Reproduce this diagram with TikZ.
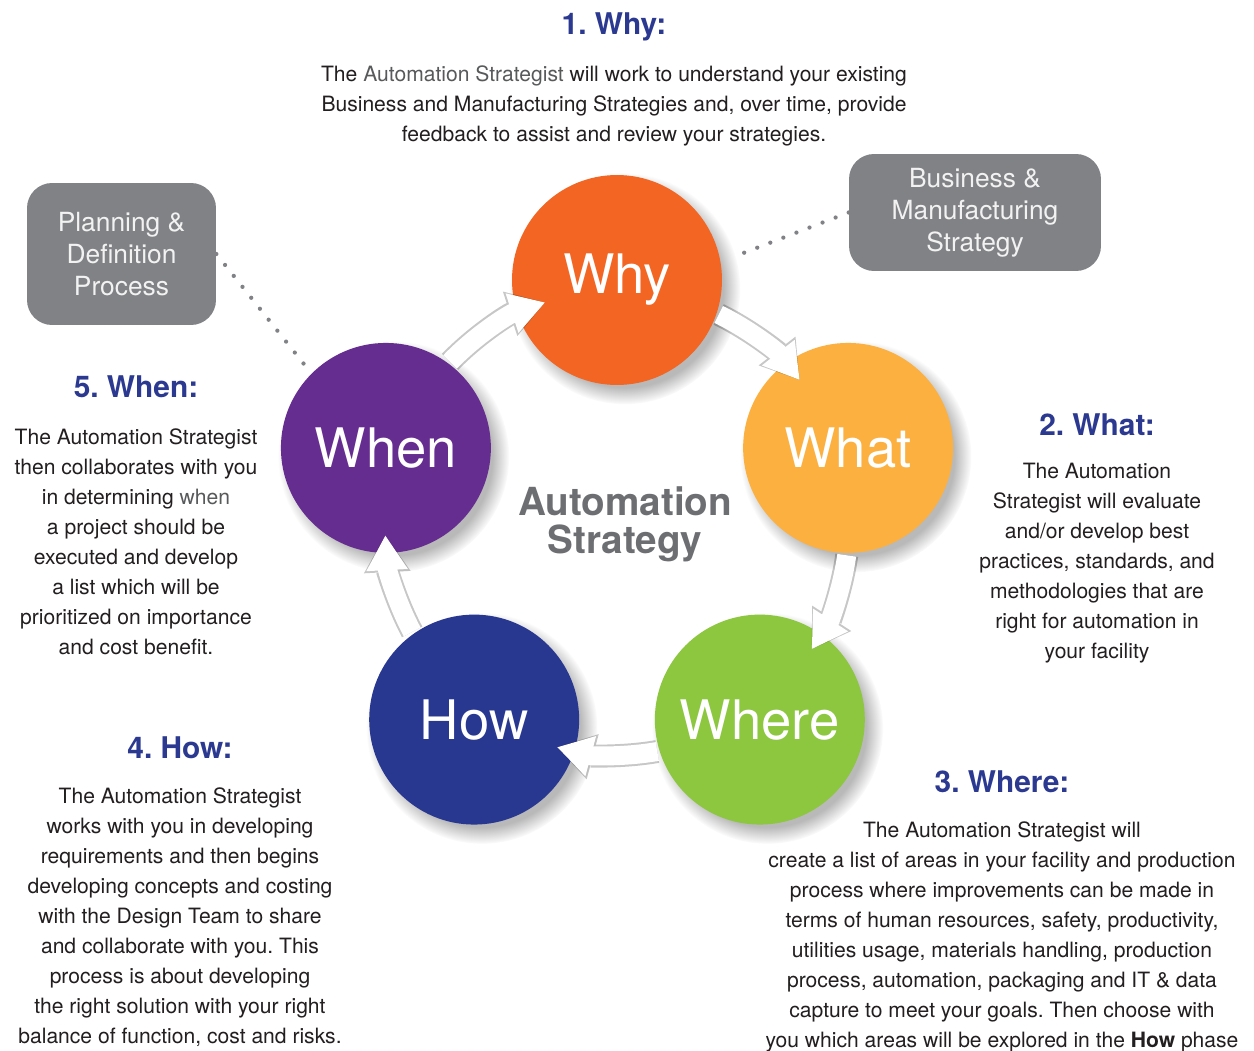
\documentclass[tikz,border=0pt]{standalone}
\usepackage{fontspec}
\setmainfont{TeX Gyre Heros}
\usepackage{xcolor}
\usepackage{tikz}
\usetikzlibrary{calc}
\usetikzlibrary{arrows.meta}
\usetikzlibrary{shadows}
\frenchspacing

\definecolor{whyorange}{HTML}{F26522}
\definecolor{whatorange}{HTML}{FBB040}
\definecolor{wheregreen}{HTML}{8DC63F}
\definecolor{howblue}{HTML}{283891}
\definecolor{whenpurple}{HTML}{662D91}
\definecolor{headblue}{HTML}{2B3990}
\definecolor{boxgrey}{HTML}{808285}
\definecolor{textgrey}{HTML}{231F20}
\definecolor{lightgrey}{HTML}{58595B}
\definecolor{centergrey}{HTML}{6D6E71}

\tikzstyle{stage} = [circle, minimum size=4.2cm, inner sep=0pt, text=white,
  font=\fontsize{31}{36}\selectfont,
  circular drop shadow={shadow xshift=0.14cm, shadow yshift=-0.16cm, opacity=0.55}]
\tikzstyle{heading} = [headblue, font=\fontsize{17}{20}\selectfont\bfseries]
\tikzstyle{body} = [textgrey, align=center, font=\fontsize{12}{17.07}\selectfont]
\tikzstyle{greybox} = [fill=boxgrey, rounded corners=0.5cm, text=white!95!black,
  align=center, inner sep=0pt, font=\fontsize{15}{18.2}\selectfont]
\tikzstyle{centertext} = [centergrey, align=center, font=\fontsize{22}{21.6}\selectfont\bfseries]
\tikzstyle{dotline} = [boxgrey, line width=0.085cm, dash pattern=on 0pt off 0.28cm, line cap=round]
\tikzstyle{ringarrow} = [white, line width=0.38cm, -{Triangle[length=0.7cm, width=0.78cm]}]
\tikzstyle{ringshadow} = [black, line width=0.46cm, -{Triangle[length=0.74cm, width=0.88cm]}]

\begin{document}
\begin{tikzpicture}[x=0.02cm, y=-0.02cm]
			\useasboundingbox[fill=white] (0,0) rectangle (1254,1051);
			
			% Ring of stages
			\coordinate (ring) at (617,523);
			\node[stage, fill=whyorange] (why) at ($(ring)+(-90:243)$) {Why};
			\node[stage, fill=whatorange] (what) at ($(ring)+(-18:243)$) {What};
			\node[stage, fill=wheregreen] (where) at ($(ring)+(54:243)$) {Where};
			\node[stage, fill=howblue] (how) at ($(ring)+(126:243)$) {How};
			\node[stage, fill=whenpurple] (when) at ($(ring)+(198:243)$) {When};
			
			\node[centertext] (centre) at (625,524) {Automation\\ Strategy};
			
			% Arrows between stages
			\begin{scope}[transparency group, opacity=0.22, shift={(2,5)}]
			\draw[ringshadow] ($(ring)+(-64:232)$) arc[start angle=-64, end angle=-38, radius=232];
			\draw[ringshadow] ($(ring)+(8:232)$) arc[start angle=8, end angle=33, radius=232];
			\draw[ringshadow] ($(ring)+(80:232)$) arc[start angle=80, end angle=105, radius=232];
			\draw[ringshadow] ($(ring)+(152:232)$) arc[start angle=152, end angle=177, radius=232];
			\draw[ringshadow] ($(ring)+(224:232)$) arc[start angle=224, end angle=252, radius=232];
			\end{scope}
			\draw[ringarrow] ($(ring)+(-64:232)$) arc[start angle=-64, end angle=-38, radius=232];
			\draw[ringarrow] ($(ring)+(8:232)$) arc[start angle=8, end angle=33, radius=232];
			\draw[ringarrow] ($(ring)+(80:232)$) arc[start angle=80, end angle=105, radius=232];
			\draw[ringarrow] ($(ring)+(152:232)$) arc[start angle=152, end angle=177, radius=232];
			\draw[ringarrow] ($(ring)+(224:232)$) arc[start angle=224, end angle=252, radius=232];
			
			% Grey boxes
			\node[greybox,
			minimum width=3.78cm,
			minimum height=2.84cm
			] (planbox) at (121.5,254) {Planning \&\\ Definition\\ Process};
			\node[greybox,
			minimum width=5.04cm,
			minimum height=2.34cm
			] (bizbox) at (975,212.5) {Business \&\\ Manufacturing\\ Strategy};
			\draw[dotline, shorten >=0.1cm] (planbox.east) -- (when.135);
			\draw[dotline, shorten >=0.3cm] (bizbox.west) -- (why.10);
			
			% Headings and texts
			\node[heading] (whyhead) at (614,27) {1. Why:};
			\node[body] (whytext) at (614,106) {The {\color{lightgrey}Automation Strategist} will work to understand your existing\\
				Business and Manufacturing Strategies and, over time, provide\\
				feedback to assist and review your strategies.};
			
			\node[heading] (whathead) at (1097,425) {2. What:};
			\node[body] (whattext) at (1097,563.5) {The Automation\\ Strategist will evaluate\\ and/or develop best\\
				practices, standards, and\\ methodologies that are\\ right for automation in\\ your facility};
			
			\node[heading] (wherehead) at (1002,782) {3. Where:};
			\node[body] (wheretext) at (1002,936.5) {The Automation Strategist will\\
				create a list of areas in your facility and production\\
				process where improvements can be made in\\
				terms of human resources, safety, productivity,\\
				utilities usage, materials handling, production\\
				process, automation, packaging and IT \& data\\
				capture to meet your goals. Then choose with\\
				you which areas will be explored in the \textbf{How} phase};
			
			\node[heading] (howhead) at (180,748) {4. How:};
			\node[body] (howtext) at (180,917.5) {The Automation Strategist\\ works with you in developing\\
				requirements and then begins\\ developing concepts and costing\\
				with the Design Team to share\\ and collaborate with you. This\\
				process is about developing\\ the right solution with your right\\
				balance of function, cost and risks.};
			
			\node[heading] (whenhead) at (136,387) {5. When:};
			\node[body] (whentext) at (136,541.5) {The Automation Strategist\\ then collaborates with you\\
				in determining {\color{lightgrey}when}\\ a project should be\\ executed and develop\\
				a list which will be\\ prioritized on importance\\ and cost benefit.};
\end{tikzpicture}
\end{document}
